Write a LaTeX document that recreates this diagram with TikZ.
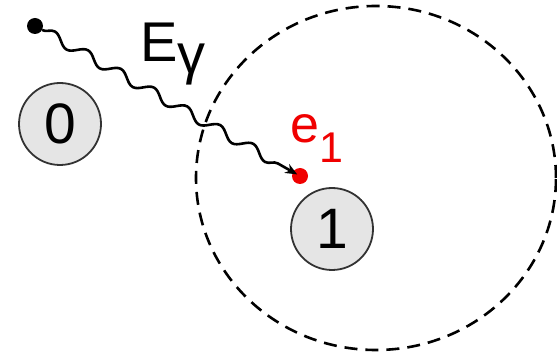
\documentclass[tikz,border=0pt]{standalone}
\usepackage{fontspec}
\setmainfont{Liberation Sans}
\usetikzlibrary{decorations.pathmorphing,arrows.meta}
\definecolor{nodefill}{gray}{0.9}
\definecolor{nodeline}{gray}{0.2}
\definecolor{ered}{RGB}{240,0,0}
\begin{document}
\begin{tikzpicture}[x=1pt,y=-1pt,
  state/.style={circle, draw=nodeline, line width=1.8pt, fill=nodefill, minimum size=82pt, inner sep=0pt, font=\fontsize{57}{57}\selectfont},
  photon/.style={decorate, decoration={snake, amplitude=5pt, segment length=38pt, post length=10pt}, line width=2.6pt, -{Stealth[length=12pt,width=10pt]}},
  shell/.style={dash pattern=on 13pt off 8pt, line width=2.6pt},
  dotnode/.style={circle, minimum size=16pt, inner sep=0pt}]
\useasboundingbox (0,0) rectangle (557,355);
\draw[shell] (376,178) ellipse [x radius=180pt, y radius=172pt];
\node[state] (n0) at (60,124) {0};
\node[state] (n1) at (332,229) {1};
\node[dotnode, fill=black] (src) at (35,26) {};
\node[dotnode, fill=ered] (e1) at (300,176) {};
\draw[photon, shorten >=-5pt] (src) -- (e1);
\node[anchor=base west, inner sep=0pt, font=\fontsize{56}{56}\selectfont] (lbl) at (140,62) {E\raisebox{-12pt}{γ}};
\node[anchor=base west, inner sep=0pt, text=ered, font=\fontsize{52}{52}\selectfont] (elbl) at (290,143) {e\raisebox{-20pt}{\fontsize{43}{43}\selectfont 1}};
\end{tikzpicture}
\end{document}
